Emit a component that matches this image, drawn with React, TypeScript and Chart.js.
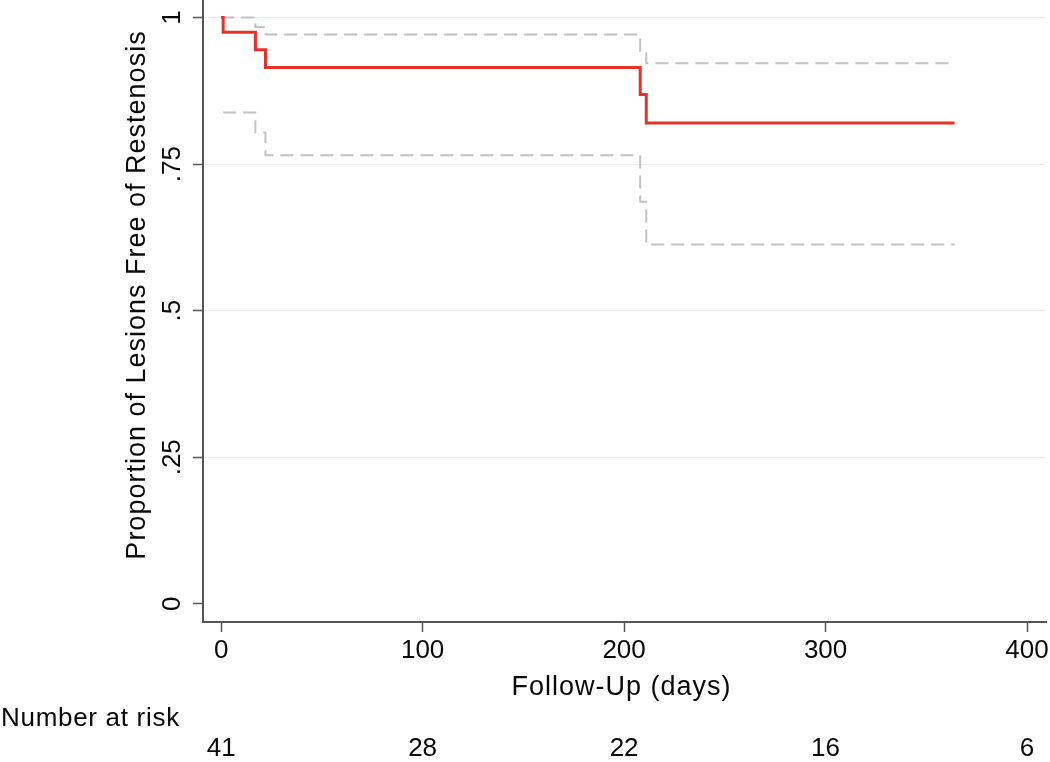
import React, { useEffect, useRef } from "react";
import { Chart, registerables } from "chart.js";

Chart.register(...registerables);

// Kaplan-Meier estimate (days, proportion free of restenosis)
const days = [0, 1, 17, 22, 208, 211, 364];
const survival = [1, 0.975, 0.945, 0.915, 0.869, 0.82, 0.82];
const upperCI = [1, 1, 0.984, 0.971, 0.943, 0.922, 0.922];
const lowerCI = [null, 0.838, 0.804, 0.765, 0.686, 0.613, 0.613];

const xTicks = [0, 100, 200, 300, 400];
const xTickLabels = ["0", "100", "200", "300", "400"];
const yTicks = [0, 0.25, 0.5, 0.75, 1];
const yTickLabels = ["0", ".25", ".5", ".75", "1"];

const riskDays = [0, 100, 200, 300, 400];
const atRisk = [41, 28, 22, 16, 6];

const xTitle = "Follow-Up (days)";
const yTitle = "Proportion of Lesions Free of Restenosis";
const riskTitle = "Number at risk";

const FONT = '"Liberation Sans", Arial, Helvetica, sans-serif';

const textPlugin = {
  id: "kmText",
  afterDraw(chart: any) {
    const ctx = chart.ctx;
    const xs = chart.scales.x;
    const ys = chart.scales.y;
    const area = chart.chartArea;
    ctx.save();
    ctx.fillStyle = "#0a0a0a";
    ctx.font = `26px ${FONT}`;
    ctx.textAlign = "center";
    ctx.textBaseline = "middle";
    // x tick labels
    xTicks.forEach((v, i) => {
      ctx.fillText(xTickLabels[i], xs.getPixelForValue(v), 651);
    });
    // y tick labels (rotated)
    yTicks.forEach((v, i) => {
      ctx.save();
      ctx.translate(173, ys.getPixelForValue(v));
      ctx.rotate(-Math.PI / 2);
      ctx.fillText(yTickLabels[i], 0, 0);
      ctx.restore();
    });
    // number at risk
    riskDays.forEach((d, i) => {
      ctx.fillText(String(atRisk[i]), xs.getPixelForValue(d), 749);
    });
    ctx.textAlign = "left";
    (ctx as any).letterSpacing = "0.7px";
    ctx.fillText(riskTitle, 1, 719);
    // titles
    ctx.textAlign = "center";
    ctx.font = `27px ${FONT}`;
    (ctx as any).letterSpacing = "1px";
    ctx.fillText(xTitle, (area.left + area.right) / 2 - 3, 688);
    ctx.save();
    ctx.translate(138, (area.top + area.bottom) / 2 - 16);
    ctx.rotate(-Math.PI / 2);
    ctx.fillText(yTitle, 0, 0);
    ctx.restore();
    (ctx as any).letterSpacing = "0px";
    ctx.restore();
  },
};

export default function App() {
  const ref = useRef<HTMLCanvasElement | null>(null);
  useEffect(() => {
    if (!ref.current) return;
    const toPts = (ys: (number | null)[]) => days.map((d, i) => ({ x: d, y: ys[i] }));
    const chart = new Chart(ref.current, {
      type: "scatter",
      data: {
        datasets: [
          {
            label: "Survivor function",
            data: toPts(survival),
            showLine: true,
            stepped: "before",
            borderColor: "#e8302a",
            borderWidth: 3,
            pointRadius: 0,
            fill: false,
          },
          {
            label: "Upper 95% CI",
            data: toPts(upperCI),
            showLine: true,
            stepped: "before",
            borderColor: "#c2c2c2",
            borderWidth: 2,
            borderDash: [13, 7],
            pointRadius: 0,
            fill: false,
          },
          {
            label: "Lower 95% CI",
            data: toPts(lowerCI),
            showLine: true,
            stepped: "before",
            borderColor: "#c2c2c2",
            borderWidth: 2,
            borderDash: [13, 7],
            pointRadius: 0,
            fill: false,
            spanGaps: false,
          },
        ],
      } as any,
      options: {
        animation: false,
        responsive: false,
        devicePixelRatio: 1,
        layout: { padding: { top: 0, right: 4, bottom: 0, left: 0 } },
        plugins: { legend: { display: false }, tooltip: { enabled: false } },
        scales: {
          x: {
            type: "linear",
            min: -9,
            max: 409.4,
            afterBuildTicks: (s: any) => {
              s.ticks = xTicks.map((v) => ({ value: v }));
            },
            afterFit: (s: any) => {
              s.height = 140;
            },
            ticks: { display: false },
            grid: {
              drawOnChartArea: false,
              drawTicks: true,
              tickLength: 10,
              tickColor: "#555",
              tickWidth: 1.5,
            },
            border: { display: true, color: "#555", width: 2 },
          },
          y: {
            type: "linear",
            min: -0.031,
            max: 1.03,
            afterBuildTicks: (s: any) => {
              s.ticks = yTicks.map((v) => ({ value: v }));
            },
            afterFit: (s: any) => {
              s.width = 203;
            },
            ticks: { display: false },
            grid: {
              drawOnChartArea: true,
              color: (c: any) => (c.tick && c.tick.value === 0 ? "rgba(0,0,0,0)" : "#ebebeb"),
              lineWidth: 1,
              drawTicks: true,
              tickLength: 10,
              tickColor: "#555",
              tickWidth: 1.5,
            },
            border: { display: true, color: "#555", width: 2 },
          },
        },
      } as any,
      plugins: [textPlugin],
    });
    return () => chart.destroy();
  }, []);
  return (
    <div style={{ position: "fixed", left: 0, top: 0, width: 1050, height: 762, background: "#fff" }}>
      <canvas ref={ref} width={1050} height={762} style={{ display: "block" }} />
    </div>
  );
}
